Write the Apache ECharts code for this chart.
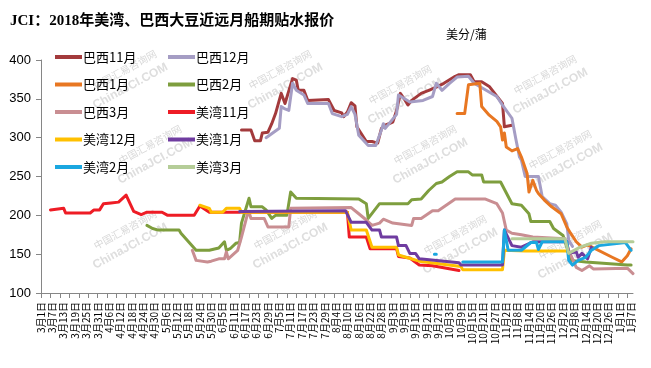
<!DOCTYPE html>
<html>
<head>
<meta charset="utf-8">
<script src="https://cdn.jsdelivr.net/npm/echarts@6/dist/echarts.min.js"></script>
<style>html,body{margin:0;padding:0;background:#fff}#c{width:651px;height:368px}</style>
</head>
<body>
<div id="c"></div>
<script>
// ---- categories: daily dates from 2018-03-01 to 2019-01-08 ----
const startYear = 2018, startMonth = 2, dayCount = 314;
const categories = [];
for (let i = 0; i < dayCount; i++) {
  const dt = new Date(startYear, startMonth, 1 + i);
  categories.push((dt.getMonth() + 1) + '月' + dt.getDate() + '日');
}
const yTicks = [100, 150, 200, 250, 300, 350, 400];

// ---- series values: [dayIndex, value] ----
const brazilNov = [[106,310],[111,310],[113,296],[116,296],[117,306],[120,307],[122,318],[124,331],[127,357],[129,344],[130,342],[133,376],[135,374],[136,361],[139,361],[141,348],[152,349],[155,335],[159,332],[160,327],[162,333],[164,345],[166,341],[167,314],[172,295],[175,295],[178,293],[180,312],[182,316],[186,320],[188,335],[190,357],[192,350],[194,342],[196,348],[201,357],[205,361],[209,365],[213,370],[219,379],[221,381],[227,381],[229,372],[233,372],[237,366],[244,344],[245,314],[249,316]];
const brazilDec = [[119,300],[126,312],[127,340],[129,337],[131,335],[133,370],[135,361],[139,355],[141,344],[152,344],[154,331],[159,327],[162,330],[164,340],[166,330],[168,303],[173,290],[177,290],[180,310],[181,318],[182,312],[188,330],[189,355],[195,346],[202,348],[207,353],[209,370],[212,361],[216,370],[220,378],[226,379],[229,370],[241,353],[244,342],[249,325],[251,299],[253,275],[254,271],[256,250],[263,250],[265,224],[269,215],[272,213],[275,204],[278,189],[279,168],[281,160]];
const brazilJan = [[220,331],[224,331],[226,368],[232,370],[233,340],[237,329],[241,321],[243,314],[244,297],[245,306],[246,288],[249,283],[252,286],[254,275],[257,254],[258,230],[260,245],[262,232],[263,228],[266,220],[270,211],[275,202],[278,185],[280,177],[283,166],[286,159],[289,162],[302,146],[307,140],[310,148],[312,157]];
const brazilFeb = [[56,187],[59,183],[62,181],[73,181],[74,177],[82,155],[89,155],[90,157],[94,158],[97,166],[98,155],[100,157],[103,164],[105,165],[106,190],[110,222],[111,211],[117,211],[119,207],[122,196],[124,200],[130,200],[132,230],[135,222],[168,221],[172,215],[173,196],[179,215],[194,215],[196,220],[201,221],[205,232],[209,241],[212,243],[216,250],[220,256],[226,256],[228,252],[233,252],[234,243],[243,243],[249,215],[254,213],[258,202],[259,192],[269,192],[271,183],[276,174],[278,159],[280,142],[288,140],[299,138],[310,136],[312,136]];
const brazilMar = [[80,155],[82,142],[88,140],[90,141],[94,144],[97,144],[98,153],[99,144],[104,155],[105,153],[106,172],[109,200],[110,204],[111,196],[118,196],[120,185],[131,185],[132,209],[164,210],[168,202],[172,194],[175,187],[179,190],[181,195],[186,190],[196,187],[197,196],[201,196],[207,206],[210,206],[219,221],[235,221],[241,215],[244,203],[246,181],[249,177],[254,175],[260,172],[277,170],[279,155],[283,133],[286,129],[290,135],[292,131],[310,132],[313,125]];
const gulfNov = [[5,207],[12,209],[13,203],[26,203],[28,207],[31,207],[33,215],[37,216],[41,217],[45,226],[49,205],[53,201],[56,204],[64,204],[67,200],[81,200],[84,212],[89,204],[162,204],[163,172],[172,172],[174,157],[188,157],[189,147],[195,145],[200,136],[207,135],[221,129]];
const gulfDec = [[84,213],[89,209],[90,204],[96,204],[98,209],[105,209],[106,204],[162,204],[164,181],[172,181],[175,159],[188,159],[189,149],[193,146],[200,141],[222,134],[223,130],[244,130],[245,155],[256,154],[278,154]];
const gulfJan = [[105,205],[161,206],[164,191],[172,191],[175,181],[179,181],[180,172],[188,172],[189,161],[193,161],[195,151],[198,151],[200,144],[221,139],[222,136],[244,136],[245,181],[249,161],[254,159],[260,166],[278,166],[279,151],[283,153],[284,146],[286,151],[289,144],[291,159]];
const gulfFeb = [[208,150],[209,150],[210,null],[223,140],[244,140],[245,181],[247,155],[254,155],[259,165],[262,165],[263,156],[265,166],[278,166],[279,142],[281,136],[284,142],[288,146],[291,155],[295,161],[309,165],[312,155]];
const gulfMar = [[249,170],[277,170],[279,151],[285,159],[291,164],[298,166],[313,166]];

const seriesNames = ['巴西11月','巴西12月','巴西1月','巴西2月','巴西3月','美湾11月','美湾12月','美湾1月','美湾2月','美湾3月'];
const seriesData = [brazilNov, brazilDec, brazilJan, brazilFeb, brazilMar, gulfNov, gulfDec, gulfJan, gulfFeb, gulfMar];
const seriesColors = ['#A33A3C','#A59DC4','#E87722','#7E9E3E','#C98E92','#EE1C25','#FFC000','#6F3CA0','#1AA7E0','#B5CD98'];

// watermark positions
const wmPos = [[125,80],[280,80],[400,95],[545,85],[150,155],[425,155],[560,160],[125,240],[285,240],[455,245],[570,250]];

const chart = echarts.init(document.getElementById('c'), null, {renderer: 'canvas'});

const graphics = [];
wmPos.forEach(p => {
  graphics.push({
    type: 'group', x: p[0], y: p[1], rotation: 0.5, silent: true, z: 0,
    children: [
      {type: 'text', x: -30, y: -14, style: {text: '中国汇易咨询网', fontSize: 10, fill: '#d9d9d9', fontFamily: 'Noto Sans CJK SC'}},
      {type: 'text', x: -40, y: 2, style: {text: 'ChinaJCI.COM', fontSize: 12, fontWeight: 'bold', fill: '#dedede', fontFamily: 'Liberation Sans'}}
    ]
  });
});
graphics.push({type: 'text', left: 10, top: 14, z: 10, style: {text: 'JCI：2018年美湾、巴西大豆近远月船期贴水报价', fontSize: 15, fontWeight: 'bold', fill: '#000', fontFamily: "'Liberation Serif','Noto Sans CJK SC'"}});
graphics.push({type: 'text', left: 446, top: 28, z: 10, style: {text: '美分/蒲', fontSize: 12, fill: '#000', fontFamily: "'Noto Sans CJK SC'"}});

const legendCommon = {
  orient: 'vertical', padding: 0, itemWidth: 27, itemHeight: 4, icon: 'rect', itemGap: 11.5,
  textStyle: {fontSize: 13, color: '#000', lineHeight: 16, fontFamily: "'Noto Sans CJK SC'", padding: [0,0,0,-4]},
  selectedMode: false
};

const option = {
  animation: false,
  backgroundColor: '#fff',
  graphic: graphics,
  legend: [
    Object.assign({left: 55, top: 49, data: ['巴西11月','巴西1月','巴西3月','美湾12月','美湾2月']}, legendCommon),
    Object.assign({left: 168, top: 49, data: ['巴西12月','巴西2月','美湾11月','美湾1月','美湾3月']}, legendCommon)
  ],
  grid: {left: 41, right: 18, top: 60, bottom: 75, containLabel: false},
  xAxis: {
    type: 'category', data: categories, boundaryGap: false,
    axisLine: {lineStyle: {color: '#868686', width: 1}},
    axisTick: {interval: 4, length: 5, lineStyle: {color: '#868686'}},
    axisLabel: {interval: 5, rotate: 90, fontSize: 10, color: '#000', margin: 9, fontFamily: "'Noto Sans CJK SC'"},
    splitLine: {show: false}
  },
  yAxis: {
    type: 'value', min: yTicks[0], max: yTicks[yTicks.length - 1], interval: 50,
    axisLine: {show: true, lineStyle: {color: '#868686'}},
    axisTick: {show: true, length: 5, lineStyle: {color: '#868686'}},
    axisLabel: {fontSize: 13, color: '#000', margin: 10, fontFamily: "'Liberation Sans'"},
    splitLine: {show: false}
  },
  series: seriesNames.map((n, i) => ({
    name: n, type: 'line', data: seriesData[i], showSymbol: false, symbol: 'none',
    connectNulls: false, color: seriesColors[i],
    lineStyle: {width: 3, color: seriesColors[i], cap: 'round', join: 'round'},
    z: 2 + i * 0.01
  }))
};
chart.setOption(option);
</script>
</body>
</html>
